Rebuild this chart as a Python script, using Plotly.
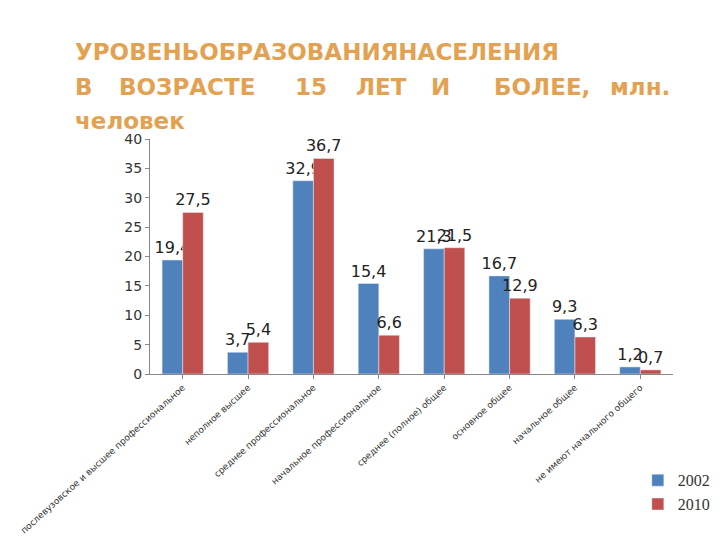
import plotly.graph_objects as go

categories = ["послевузовское и высшее профессиональное", "неполное высшее",
              "среднее профессиональное", "начальное профессиональное",
              "среднее (полное) общее", "основное общее", "начальное общее",
              "не имеют начального общего"]
v2002 = [19.4, 3.7, 32.9, 15.4, 21.3, 16.7, 9.3, 1.2]
v2010 = [27.5, 5.4, 36.7, 6.6, 21.5, 12.9, 6.3, 0.7]

def lbl(v):
    return [str(x).replace(".", ",") for x in v]

fig = go.Figure()
fig.add_bar(x=categories, y=v2002, name="2002", marker_color="#4F81BD",
            text=lbl(v2002), textposition="outside", cliponaxis=False,
            constraintext="none", textangle=0)
fig.add_bar(x=categories, y=v2010, name="2010", marker_color="#C0504D",
            text=lbl(v2010), textposition="outside", cliponaxis=False,
            constraintext="none", textangle=0)
fig.update_traces(textfont=dict(size=16, color="#222222", family="DejaVu Sans"))

fig.update_layout(
    width=720, height=540, plot_bgcolor="white", paper_bgcolor="white",
    margin=dict(l=122, r=55, t=131, b=168),
    bargap=0.37, bargroupgap=0,
    font=dict(family="DejaVu Sans", color="#333"),
    showlegend=True,
    legend=dict(x=1.08, y=-0.38, xanchor="right", yanchor="top",
                font=dict(size=16, family="Liberation Sans Narrow"),
                tracegroupgap=12, bgcolor="rgba(0,0,0,0)"),
)
fig.update_xaxes(tickangle=-42, tickfont=dict(size=9), showline=True,
                 linecolor="#888", ticks="outside", ticklen=4, tickcolor="#888")
fig.update_yaxes(range=[0, 40], dtick=5, showgrid=False, showline=True,
                 linecolor="#888", ticks="outside", ticklen=4, tickcolor="#888",
                 tickfont=dict(size=14))

tc = "#E3A252"
tf = dict(family="DejaVu Sans", size=23, color=tc)
fig.add_annotation(text="<b>УРОВЕНЬОБРАЗОВАНИЯНАСЕЛЕНИЯ</b>", xref="paper", yref="paper",
                   x=-0.147, y=1.37, xanchor="left", yanchor="middle", showarrow=False, font=tf)
for word, xp in [("В", -0.147), ("ВОЗРАСТЕ", -0.063), ("15", 0.273), ("ЛЕТ", 0.39),
                 ("И", 0.534), ("БОЛЕЕ,", 0.654), ("млн.", 0.875)]:
    fig.add_annotation(text="<b>" + word + "</b>", xref="paper", yref="paper",
                       x=xp, y=1.22, xanchor="left", yanchor="middle", showarrow=False, font=tf)
fig.add_annotation(text="<b>человек</b>", xref="paper", yref="paper",
                   x=-0.147, y=1.075, xanchor="left", yanchor="middle", showarrow=False, font=tf)

fig.write_html("out.html")
